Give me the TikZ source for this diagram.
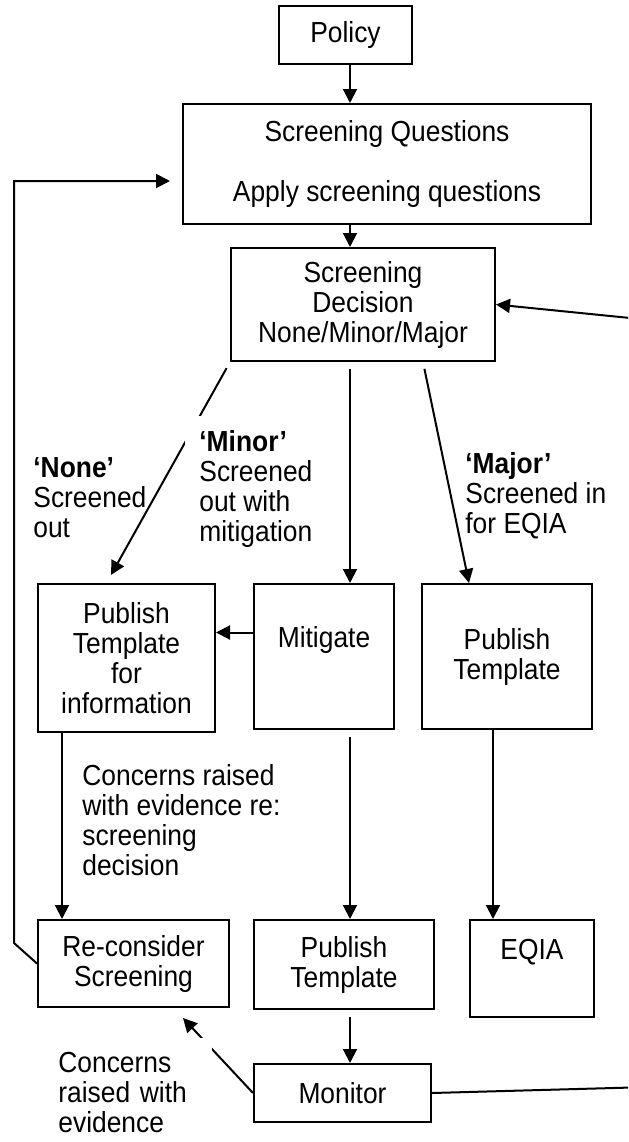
\documentclass[tikz,border=0pt]{standalone}
\usepackage{fontspec}
\setmainfont{Liberation Sans}[FakeStretch=0.91]
\usetikzlibrary{arrows.meta}

\begin{document}
\begin{tikzpicture}[x=0.5pt,y=-0.5pt,
    font=\fontsize{14.5}{15}\selectfont,
    box/.style={draw,line width=1pt,align=center,inner sep=0pt,anchor=north west},
    lbl/.style={align=left,inner sep=0pt,anchor=north west},
    arr/.style={line width=1pt,-{Triangle[length=7pt,width=7pt]}}]
  \clip (0,0) rectangle (628,1142);
  % columns for the straight arrows
  \coordinate (mid) at (350,0);
  \coordinate (lft) at (62,0);
  \coordinate (rgt) at (493,0);

  \node[box,minimum width=66.5pt,minimum height=29pt] (policy) at (278,5) {Policy};
  \node[box,minimum width=204pt,minimum height=60pt] (questions) at (182,103)
    {Screening Questions\\[15pt]Apply screening questions};
  \node[box,minimum width=132pt,minimum height=56.5pt] (decision) at (230,247)
    {Screening\\Decision\\None/Minor/Major};
  \node[box,minimum width=88.5pt,minimum height=74pt] (pubinfo) at (37,583)
    {Publish\\Template\\for\\information};
  \node[box,minimum width=70pt,minimum height=72.5pt] (mitigate) at (253,583) {Mitigate\\\strut};
  \node[box,minimum width=85pt,minimum height=72.5pt] (pubtmpl) at (421,583) {Publish\\Template};
  \node[box,minimum width=95.5pt,minimum height=43.5pt] (reconsider) at (37,919)
    {Re-consider\\Screening};
  \node[box,minimum width=90pt,minimum height=44.5pt] (pubfinal) at (253,919) {Publish\\Template};
  \node[box,minimum width=62pt,minimum height=48.5pt] (eqia) at (469,919) {EQIA\\\strut};
  \node[box,minimum width=88.5pt,minimum height=29pt] (monitor) at (253,1063) {Monitor};

  % straight down the middle
  \foreach \a/\b in {policy/questions,questions/decision}
    \draw[arr] (\a.south -| mid) -- (\b.north -| mid);
  \foreach \a/\b in {decision/mitigate,mitigate/pubfinal,pubfinal/monitor}
    \draw[arr,shorten <=3.5pt] (\a.south -| mid) -- (\b.north -| mid);
  \draw[arr] (pubinfo.south -| lft) -- (reconsider.north -| lft);
  \draw[arr] (pubtmpl.south -| rgt) -- (eqia.north -| rgt);

  % the three outcomes
  \draw[arr,shorten <=3.5pt] (decision.south west) -- ([xshift=-7.75pt,yshift=4pt]pubinfo.north);
  \draw[arr,shorten <=3.5pt] ([xshift=-36.5pt]decision.south east) -- ([xshift=-19pt]pubtmpl.north);
  \draw[arr] ([yshift=12pt]mitigate.west) coordinate (m) -- (pubinfo.east |- m);

  % loops back
  \draw[arr] (reconsider.west) -- (14,943) |- ([xshift=-6pt,yshift=-8.5pt]questions.west);
  \draw[arr] (monitor.east) -- (650,1087) -- (650,320) -- (decision.east);
  \draw[arr] (monitor.west) -- ([xshift=24.75pt,yshift=-5pt]reconsider.south);

  % labels
  \node[lbl] (none) at (33,457) {\textbf{‘None’}\\Screened\\out};
  \node[lbl,fill=white,inner sep=7pt] (minor) at (185,416)
    {\textbf{‘Minor’}\\Screened\\out with\\mitigation};
  \node[lbl] (major) at (465,452) {\textbf{‘Major’}\\Screened in\\for EQIA};
  \node[lbl] (reason) at (82,764) {Concerns raised\\with evidence re:\\screening\\decision};
  \node[lbl,fill=white,inner sep=7pt,text width=70pt] (evidence) at (44,1038)
    {Concerns\\raised with\\evidence};
\end{tikzpicture}
\end{document}
